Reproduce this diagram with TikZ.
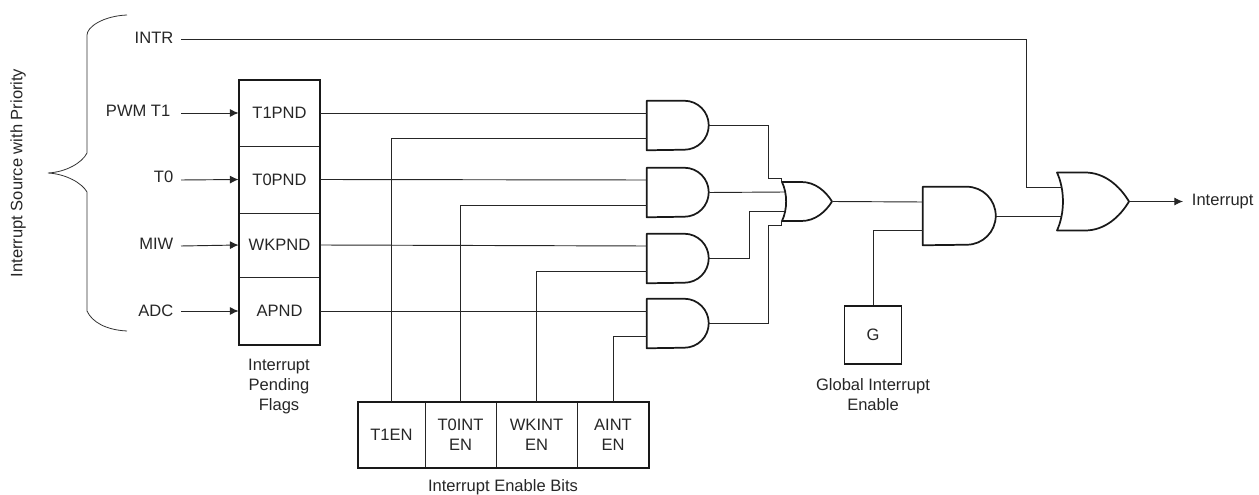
\documentclass[tikz,border=0pt]{standalone}
\usepackage{fontspec}
\setmainfont{Liberation Sans}
\usetikzlibrary{arrows.meta}

\tikzset{
	wire/.style = {line width=0.7pt, draw=black!85},
	feed/.style = {wire, -{Latex[length=6.5pt,width=6pt]}},
	cell/.style = {draw=black!85, line width=0.6pt, minimum width=#1, inner sep=0pt, align=center},
	frame/.style = {draw=black!90, line width=1.3pt, inner sep=0pt},
	caption/.style = {align=center},
	gateline/.style = {draw=black!90, line width=1.3pt, line join=round},
	gatebox/.style 2 args = {inner sep=0pt, minimum width=#1*0.75pt, minimum height=#2*0.75pt}
}

% name, x, y, width, height, input sep
\newcommand{\AndGate}[6]{
	\node[gatebox={#4}{#5}] (#1) at (#2,#3) {};
	\draw[gateline] (#1.south west) -- (#1.north west) -- ++({(#4-#5/2)*0.75pt},0)
		arc[start angle=90,end angle=-90,radius=#5*0.375pt] -- cycle;
	\coordinate (#1in) at ([yshift=#6*0.375pt]#1.west);
	\coordinate (#1en) at ([yshift=-#6*0.375pt]#1.west);
}
\newcommand{\OrGate}[6]{
	\node[gatebox={#4}{#5}] (#1) at (#2,#3) {};
	\begin{scope}[shift={(#2,#3)},x=#4*0.375pt,y=-#5*0.375pt]
		\draw[gateline] (-1,-1) -- (-.22,-1) .. controls (.33,-1) and (.75,-.52) .. (1,0)
			.. controls (.75,.52) and (.33,1) .. (-.22,1) -- (-1,1)
			.. controls (-.78,.4) and (-.78,-.4) .. (-1,-1) -- cycle;
	\end{scope}
	\coordinate (#1in) at ([xshift=#4*0.05pt,yshift=#6*0.375pt]#1.west);
	\coordinate (#1en) at ([xshift=#4*0.05pt,yshift=-#6*0.375pt]#1.west);
}

\begin{document}
\begin{tikzpicture}[x=0.75pt,y=-0.75pt,every node/.append style={text=black!85,font=\fontsize{12.4pt}{15pt}\selectfont}]
	\useasboundingbox (0,0) rectangle (1259,495);

	% sources
	\node[anchor=east] (intr) at (178,38) {INTR};
	\node[anchor=east] (pwm) at (175,111) {PWM T1};
	\node[anchor=east] (tzero) at (178,177) {T0};
	\node[anchor=east] (miw) at (178,244) {MIW};
	\node[anchor=east] (adc) at (178,311) {ADC};
	\node[caption,rotate=90] (prio) at (18,173) {Interrupt Source with Priority};
	\coordinate (intrw) at (181,39);
	\coordinate (pwmw) at (181,113);
	\coordinate (tzerow) at (181,180);
	\coordinate (miww) at (181,246);
	\coordinate (adcw) at (181,311);

	\draw[line width=0.6pt,draw=black!80] (127,15) .. controls (103,16) and (87,27) .. (87,35) -- (87,153)
		.. controls (82,163) and (66,172) .. (48,173) .. controls (66,174) and (82,183) .. (87,192)
		-- (87,311) .. controls (92,322) and (106,330) .. (127,331);

	% pending flags
	\node[cell=81pt*0.75,minimum height=66pt*0.75] (tonepnd) at (279.5,113) {T1PND};
	\node[cell=81pt*0.75,minimum height=67pt*0.75] (tzeropnd) at (279.5,179.5) {T0PND};
	\node[cell=81pt*0.75,minimum height=64pt*0.75] (wkpnd) at (279.5,245) {WKPND};
	\node[cell=81pt*0.75,minimum height=68pt*0.75] (apnd) at (279.5,311) {APND};
	\node[frame,minimum width=81pt*0.75,minimum height=265pt*0.75] (pnd) at (279.5,212.5) {};
	\node[caption] (pndcap) at (279,387) {Interrupt\\Pending\\Flags};

	% enable bits
	\node[cell=67pt*0.75,minimum height=66pt*0.75] (tonen) at (391.5,435) {T1EN};
	\node[cell=71pt*0.75,minimum height=66pt*0.75] (tzeroen) at (460.5,435) {T0INT\\EN};
	\node[cell=81pt*0.75,minimum height=66pt*0.75] (wken) at (536.5,435) {WKINT\\EN};
	\node[cell=72pt*0.75,minimum height=66pt*0.75] (aen) at (613,435) {AINT\\EN};
	\node[frame,minimum width=291pt*0.75,minimum height=66pt*0.75] (enbox) at (503.5,435) {};
	\node[caption] (encap) at (503,487) {Interrupt Enable Bits};

	% gates
	\AndGate{andone}{678}{125.5}{62}{49}{25}
	\AndGate{andtwo}{678}{192.5}{62}{49}{25}
	\AndGate{andthree}{678}{258.5}{62}{49}{25}
	\AndGate{andfour}{678}{323.5}{62}{49}{25}
	\OrGate{orone}{807}{201.5}{50}{39}{19}
	\AndGate{andmain}{959.5}{216}{73}{58}{28}
	\OrGate{ormain}{1093}{201.5}{72}{58}{29}

	\node[frame,minimum width=57pt*0.75,minimum height=58pt*0.75] (gbit) at (873,335) {G};
	\node[caption] (gcap) at (873,395) {Global Interrupt\\Enable};
	\node[anchor=west,inner xsep=6.5pt] (out) at (1183,201.5) {Interrupt};

	% inputs
	\draw[feed] (pwmw) -- (tonepnd.west);
	\draw[feed] (tzerow) -- (tzeropnd.west);
	\draw[feed] (miww) -- (wkpnd.west);
	\draw[feed] (adcw) -- (apnd.west);

	\draw[wire] (tonepnd.east) -- (andonein);
	\draw[wire] (tzeropnd.east) -- (andtwoin);
	\draw[wire] (wkpnd.east) -- (andthreein);
	\draw[wire] (apnd.east) -- (andfourin);

	\draw[wire] (tonen.north) |- (andoneen);
	\draw[wire] (tzeroen.north) |- (andtwoen);
	\draw[wire] (wken.north) |- (andthreeen);
	\draw[wire] (aen.north) |- (andfouren);

	% into the first or
	\draw[wire] (andone.east) -| (768,178) -| (orone.north west);
	\draw[wire] (andtwo.east) -- (oronein);
	\draw[wire] (andthree.east) -| (749,211) -- (oroneen);
	\draw[wire] (andfour.east) -| (768,225) -| (orone.south west);

	\draw[wire] (orone.east) -- (andmainin);
	\draw[wire] (gbit.north) |- (andmainen);
	\draw[wire] (andmain.east) -- (ormainen);
	\draw[wire] (intrw) -| (1026,187) -- (ormainin);
	\draw[feed] (ormain.east) -- (out.west);
\end{tikzpicture}
\end{document}
